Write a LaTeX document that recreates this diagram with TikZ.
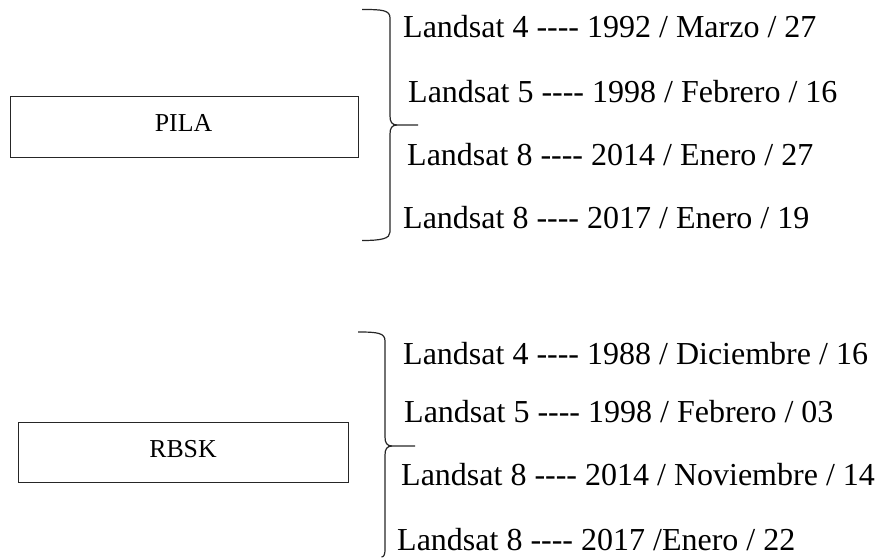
\documentclass[tikz,border=0pt]{standalone}
\usepackage{fontspec}
\setmainfont{Liberation Serif}
\newcommand\fourdash{-{}-{}-{}-}
\begin{document}
\begin{tikzpicture}[x=1bp,y=-1bp,
  box/.style={draw=black!85, line width=1bp, inner sep=0, anchor=north west},
  boxtext/.style={anchor=base, inner sep=0, font=\fontsize{25.8bp}{30bp}\selectfont},
  item/.style={anchor=base west, inner sep=0, font=\fontsize{32bp}{36bp}\selectfont},
  brace/.style={draw=black!85, line width=1.2bp}]
\useasboundingbox (0,0) rectangle (877,559);

% PILA group
\node[box, minimum width=348bp, minimum height=61bp] (pila) at (10,96) {};
\node[boxtext] (pilat) at (183.5,132) {PILA};
\node[item] (p1) at (403,37.7) {Landsat 4 \fourdash{} 1992 / Marzo / 27};
\node[item] (p2) at (408,102.7) {Landsat 5 \fourdash{} 1998 / Febrero / 16};
\node[item] (p3) at (407,166) {Landsat 8 \fourdash{} 2014 / Enero / 27};
\node[item] (p4) at (403,228.3) {Landsat 8 \fourdash{} 2017 / Enero / 19};
\coordinate (pb1) at (362,9.5);
\coordinate (pbtip) at (418,125);
\coordinate (pb2) at (362,240.5);
\draw[brace] (pb1) .. controls (382,9.5) and (390,10) .. (390,18) -- (390,116)
  .. controls (390,122) and (392,125) .. (397,125) -- (pbtip);
\draw[brace] (397,125) .. controls (392,125) and (390,128) .. (390,134) -- (390,232)
  .. controls (390,238.5) and (382,240.5) .. (pb2);

% RBSK group
\node[box, minimum width=330bp, minimum height=60bp] (rbsk) at (18,422) {};
\node[boxtext] (rbskt) at (183,457) {RBSK};
\node[item] (r1) at (403,364) {Landsat 4 \fourdash{} 1988 / Diciembre / 16};
\node[item] (r2) at (404,422) {Landsat 5 \fourdash{} 1998 / Febrero / 03};
\node[item] (r3) at (401,485) {Landsat 8 \fourdash{} 2014 / Noviembre / 14};
\node[item] (r4) at (397,550) {Landsat 8 \fourdash{} 2017 /Enero / 22};
\coordinate (rb1) at (358,332);
\coordinate (rbtip) at (415,446);
\coordinate (rb2) at (381.5,557);
\draw[brace] (rb1) .. controls (378,332) and (385,333) .. (385,341) -- (385,437)
  .. controls (385,443) and (387,446) .. (392,446) -- (rbtip);
\draw[brace] (392,446) .. controls (387,446) and (385,449) .. (385,455) -- (385,550)
  .. controls (385,554) and (384,557) .. (rb2);
\end{tikzpicture}
\end{document}
